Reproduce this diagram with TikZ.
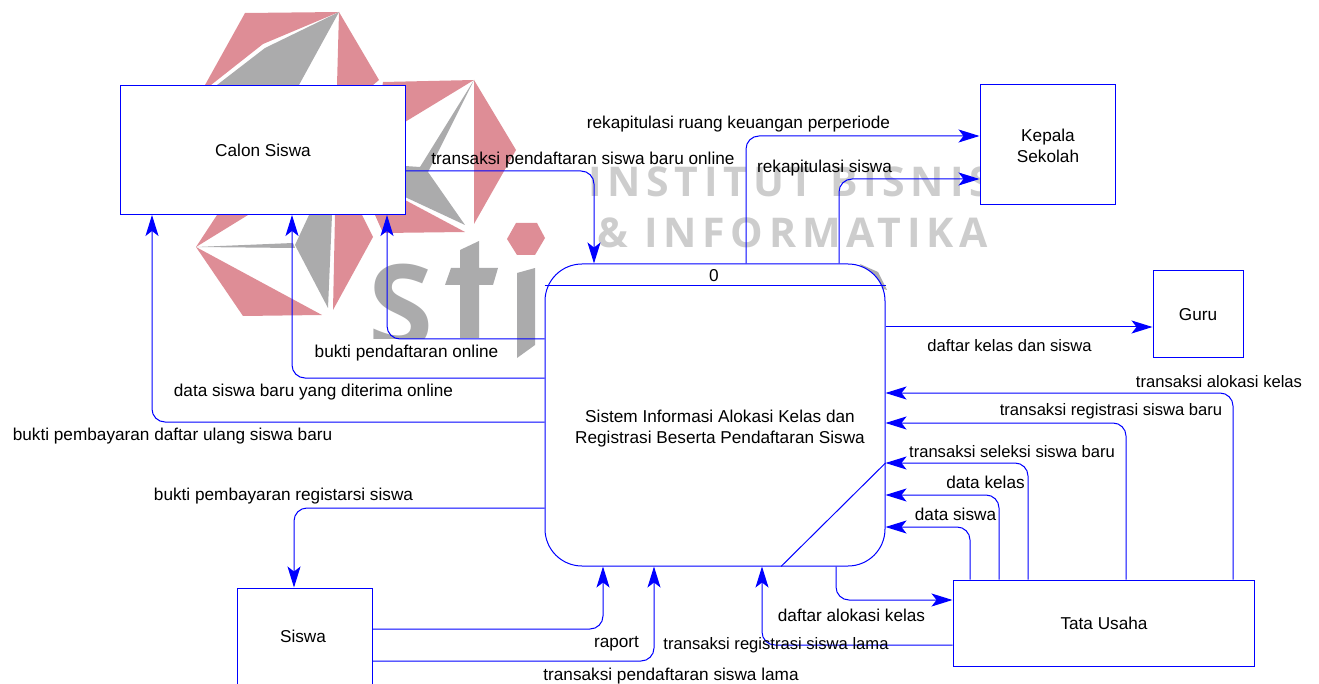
\documentclass[tikz,border=0pt]{standalone}
\usepackage{fontspec}
\setmainfont{Liberation Sans}
\newfontfamily\markfont[LetterSpace=14]{Open Sans}
\newfontfamily\stfont{Open Sans}
\usetikzlibrary{arrows.meta}
\definecolor{flowblue}{RGB}{0,0,255}
\definecolor{markpink}{RGB}{222,141,150}
\definecolor{markgray}{RGB}{171,171,172}
\definecolor{marklight}{RGB}{205,205,205}

\tikzset{
  entity/.style={draw=flowblue,fill=white,rectangle,inner sep=0pt,line width=1pt,align=center},
  lab/.style={inner sep=0pt,yshift=-1.5pt,font=\fontsize{17.2}{21}\selectfont,align=center},
  labn/.style={lab,font=\fontsize{16.6}{21}\selectfont},
  flow/.style={draw=flowblue,line width=1pt,rounded corners=13pt,-{Stealth[length=21pt,width=13pt,inset=5pt]}}
}

\begin{document}
\begin{tikzpicture}[x=1pt,y=-1pt]
    \useasboundingbox (0,0) rectangle (1319,684);
    % watermark
    \fill[markpink] (245,13) -- (339,12) -- (263,44) -- (211,85) -- (205,85) -- cycle;
    \fill[markgray] (339,12) -- (299,85) -- (217,85) -- (265,48) -- cycle;
    \fill[markpink] (339,12) -- (379,80) -- (373,85) -- (337,85) -- cycle;
    \fill[markpink] (383,82) -- (474,80) -- (400,125) -- (380,100) -- cycle;
    \fill[markpink] (474,80) -- (516,150) -- (474,224) -- cycle;
    \fill[markgray] (405,166) -- (420,167) -- (474,80) -- (428,172) -- (465,225) -- (405,197) -- cycle;
    \fill[markpink] (405,200) -- (465,232) -- (383,233) -- (375,215) -- cycle;
    \fill[markpink] (248,215) -- (196,247) -- (217,215) -- cycle;
    \fill[markgray] (196,247) -- (293,243) -- (295,248) -- cycle;
    \fill[markgray] (309,215) -- (295,245) -- (328,308) -- (332,215) -- cycle;
    \fill[markpink] (196,247) -- (322,315) -- (243,316) -- cycle;
    \fill[markpink] (335,215) -- (362,215) -- (373,237) -- (333,310) -- cycle;
    \fill[markpink] (507,239) -- (516,223) -- (537,223) -- (545,238) -- (535,255) -- (517,255) -- cycle;
    \fill[markgray] (460,250) -- (479,241) -- (479,268) -- (498,268) -- (493,285) -- (479,285) -- (479,338) -- (460,338) -- (460,285) -- (445,285) -- (451,268) -- (460,268) -- cycle;
    \fill[markgray] (517,273) -- (535,268) -- (535,345) -- (517,358) -- cycle;
    \fill[markgray] (860,264) -- (878,272) -- (887,290) -- (870,285) -- cycle;
    \begin{scope}
      \clip (360,250) rectangle (445,339);
      \node[text=markgray,anchor=base west,inner sep=0pt,font=\stfont\bfseries\fontsize{118}{118}\selectfont] (stmark) at (368,349) {S};
    \end{scope}
    \node[text=marklight,anchor=base west,inner sep=0pt,font=\markfont\bfseries\fontsize{41}{41}\selectfont] (markone) at (588,197) {INSTITUT BISNIS};
    \node[text=marklight,anchor=base west,inner sep=0pt,font=\markfont\bfseries\fontsize{41}{41}\selectfont] (marktwo) at (597,248) {\& INFORMATIKA};
    % boxes
    \node[entity,minimum width=285pt,minimum height=129pt] (calon) at (262.5,150) {};
    \node[entity,minimum width=135pt,minimum height=120pt] (kepala) at (1047.5,145) {};
    \node[entity,minimum width=90pt,minimum height=86pt] (guru) at (1198,314) {};
    \node[entity,minimum width=301pt,minimum height=86pt] (tata) at (1103.5,623) {};
    \node[entity,minimum width=135pt,minimum height=98pt] (siswa) at (304.5,637) {};
    \node[entity,rounded corners=37pt,minimum width=340pt,minimum height=302pt] (main) at (715,415) {};
    \draw[draw=flowblue,line width=1pt] (main.west |- 0,286) -- (main.east |- 0,286);
    \draw[draw=flowblue,line width=1pt] ([yshift=-48pt]main.east) -- ([xshift=66pt]main.south);
    % flows
    \draw[flow] ([yshift=-21pt]calon.east) -| ([xshift=-121pt]main.north);
    \draw[flow] ([yshift=76pt]main.west) -| ([xshift=124.5pt]calon.south);
    \draw[flow] ([yshift=37pt]main.west) -| ([xshift=29.5pt]calon.south);
    \draw[flow] ([yshift=-7pt]main.west) -| ([xshift=-110.5pt]calon.south);
    \draw[flow] ([yshift=-93pt]main.west) -| ([xshift=-10.5pt]siswa.north);
    \draw[flow] ([yshift=8pt]siswa.east) -| ([xshift=-112pt]main.south);
    \draw[flow] ([yshift=-24pt]siswa.east) -| ([xshift=-61pt]main.south);
    \draw[flow] ([yshift=-22pt]tata.west) -| ([xshift=47pt]main.south);
    \draw[flow] ([xshift=121pt]main.south) |- ([yshift=23pt]tata.west);
    \draw[flow] ([xshift=-133.5pt]tata.north) |- ([yshift=-112pt]main.east);
    \draw[flow] ([xshift=-104.5pt]tata.north) |- ([yshift=-80pt]main.east);
    \draw[flow] ([xshift=-75.5pt]tata.north) |- ([yshift=-48pt]main.east);
    \draw[flow] ([xshift=22.5pt]tata.north) |- ([yshift=-8pt]main.east);
    \draw[flow] ([xshift=129.5pt]tata.north) |- ([yshift=22pt]main.east);
    \draw[flow] ([yshift=88pt]main.east) -- ([yshift=-13pt]guru.west);
    \draw[flow] ([xshift=31pt]main.north) |- ([yshift=9pt]kepala.west);
    \draw[flow] ([xshift=124pt]main.north) |- ([yshift=-34pt]kepala.west);
    % labels
    \node[lab] (lcalon) at (263,149) {Calon Siswa};
    \node[lab] (lkepala) at (1048,144) {Kepala\\Sekolah};
    \node[lab] (lguru) at (1198,313) {Guru};
    \node[lab] (ltata) at (1104,622) {Tata Usaha};
    \node[lab] (lsiswa) at (303,635) {Siswa};
    \node[lab] (lzero) at (714,274) {0};
    \node[lab] (lmain) at (720,427) {Sistem Informasi Alokasi Kelas dan\\Registrasi Beserta Pendaftaran Siswa};
    \node[lab] (l1) at (738.5,123) {rekapitulasi ruang keuangan perperiode};
    \node[lab] (l2) at (583,159) {transaksi pendaftaran siswa baru online};
    \node[lab] (l3) at (824.5,167) {rekapitulasi siswa};
    \node[labn] (l4) at (1009.5,344) {daftar kelas dan siswa};
    \node[labn] (l5) at (1219,380) {transaksi alokasi kelas};
    \node[labn] (l6) at (1111,410) {transaksi registrasi siswa baru};
    \node[labn] (l7) at (1012,450) {transaksi seleksi siswa baru};
    \node[lab] (l8) at (985.5,481) {data kelas};
    \node[lab] (l9) at (955.5,513) {data siswa};
    \node[lab] (l10) at (851.5,614) {daftar alokasi kelas};
    \node[labn] (l11) at (776,644) {transaksi registrasi siswa lama};
    \node[lab] (l12) at (671,675) {transaksi pendaftaran siswa lama};
    \node[lab] (l13) at (616.5,642) {raport};
    \node[lab] (l14) at (283.5,495) {bukti pembayaran registarsi siswa};
    \node[lab] (l15) at (172.5,435) {bukti pembayaran daftar ulang siswa baru};
    \node[lab] (l16) at (313.5,391) {data siswa baru yang diterima online};
    \node[lab] (l17) at (406.5,352) {bukti pendaftaran online};
\end{tikzpicture}
\end{document}
